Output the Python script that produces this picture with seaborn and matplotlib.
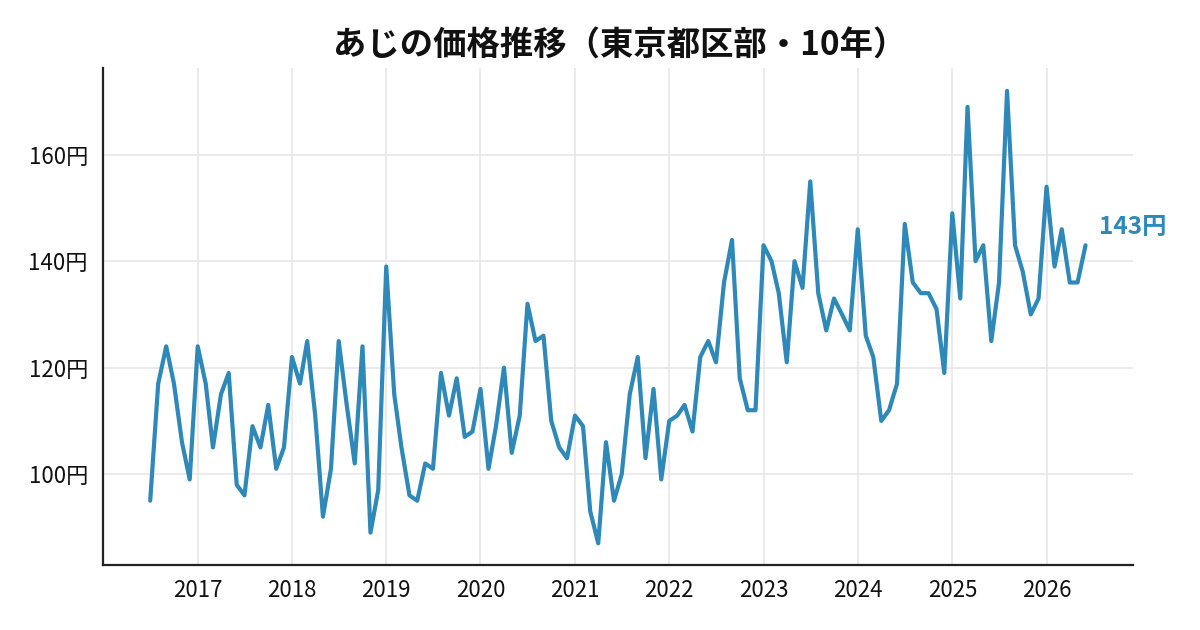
import pandas as pd
import numpy as np
import seaborn as sns
import matplotlib.pyplot as plt
import matplotlib.dates as mdates
from matplotlib.ticker import FuncFormatter

# monthly price (yen), 2016-07 .. 2026-06
months = pd.date_range("2016-07-01", "2026-06-01", freq="MS")
price = [95, 117, 124, 117, 106, 99,
         124, 117, 105, 115, 119, 98, 96, 109, 105, 113, 101, 105,
         122, 117, 125, 111, 92, 101, 125, 113, 102, 124, 89, 97,
         139, 115, 105, 96, 95, 102, 101, 119, 111, 118, 107, 108,
         116, 101, 109, 120, 104, 111, 132, 125, 126, 110, 105, 103,
         111, 109, 93, 87, 106, 95, 100, 115, 122, 103, 116, 99,
         110, 111, 113, 108, 122, 125, 121, 136, 144, 118, 112, 112,
         143, 140, 134, 121, 140, 135, 155, 134, 127, 133, 130, 127,
         146, 126, 122, 110, 112, 117, 147, 136, 134, 134, 131, 119,
         149, 133, 169, 140, 143, 125, 136, 172, 143, 138, 130, 133,
         154, 139, 146, 136, 136, 143]
year_ticks = pd.date_range("2017-01-01", "2026-01-01", freq="YS")
y_ticks = [100, 120, 140, 160]
title = "あじの価格推移（東京都区部・10年）"
line_color = "#2E88B8"

df = pd.DataFrame({"month": months, "price": price})

sns.set_theme(style="white")
plt.rcParams['font.family'] = ['Noto Sans CJK JP', 'DejaVu Sans']

fig = plt.figure(figsize=(12, 6.3), dpi=100)
ax = fig.add_axes([0.086, 0.103, 0.858, 0.789])
sns.lineplot(data=df, x="month", y="price", color=line_color, linewidth=3.0, ax=ax)

ax.set_xlim(pd.Timestamp("2016-01-01"), pd.Timestamp("2026-12-01"))
ax.set_ylim(82.9, 176.3)
ax.set_yticks(y_ticks)
ax.yaxis.set_major_formatter(FuncFormatter(lambda v, p: f"{int(v)}円"))
ax.set_xticks(year_ticks)
ax.xaxis.set_major_formatter(mdates.DateFormatter("%Y"))
ax.tick_params(axis="both", labelsize=16, length=5, width=1.5, color="#222222",
               labelcolor="#111111")
ax.tick_params(axis="y", pad=6)
ax.tick_params(axis="x", pad=5)
ax.grid(True, color="#e6e6e6", linewidth=1.1)
for s in ["top", "right"]:
    ax.spines[s].set_visible(False)
for s in ["left", "bottom"]:
    ax.spines[s].set_color("#222222")
    ax.spines[s].set_linewidth(1.6)
ax.set_xlabel("")
ax.set_ylabel("")

ax.annotate(f"{price[-1]}円", xy=(df["month"].iloc[-1], price[-1]), xytext=(10, 13),
            textcoords="offset points", color=line_color, fontsize=17.5, fontweight="bold",
            va="center", ha="left", annotation_clip=False)

fig.text(0.516, 0.927, title, fontsize=24, fontweight="bold", color="#111111",
         ha="center", va="center")
fig.savefig("out.png", dpi=100)
